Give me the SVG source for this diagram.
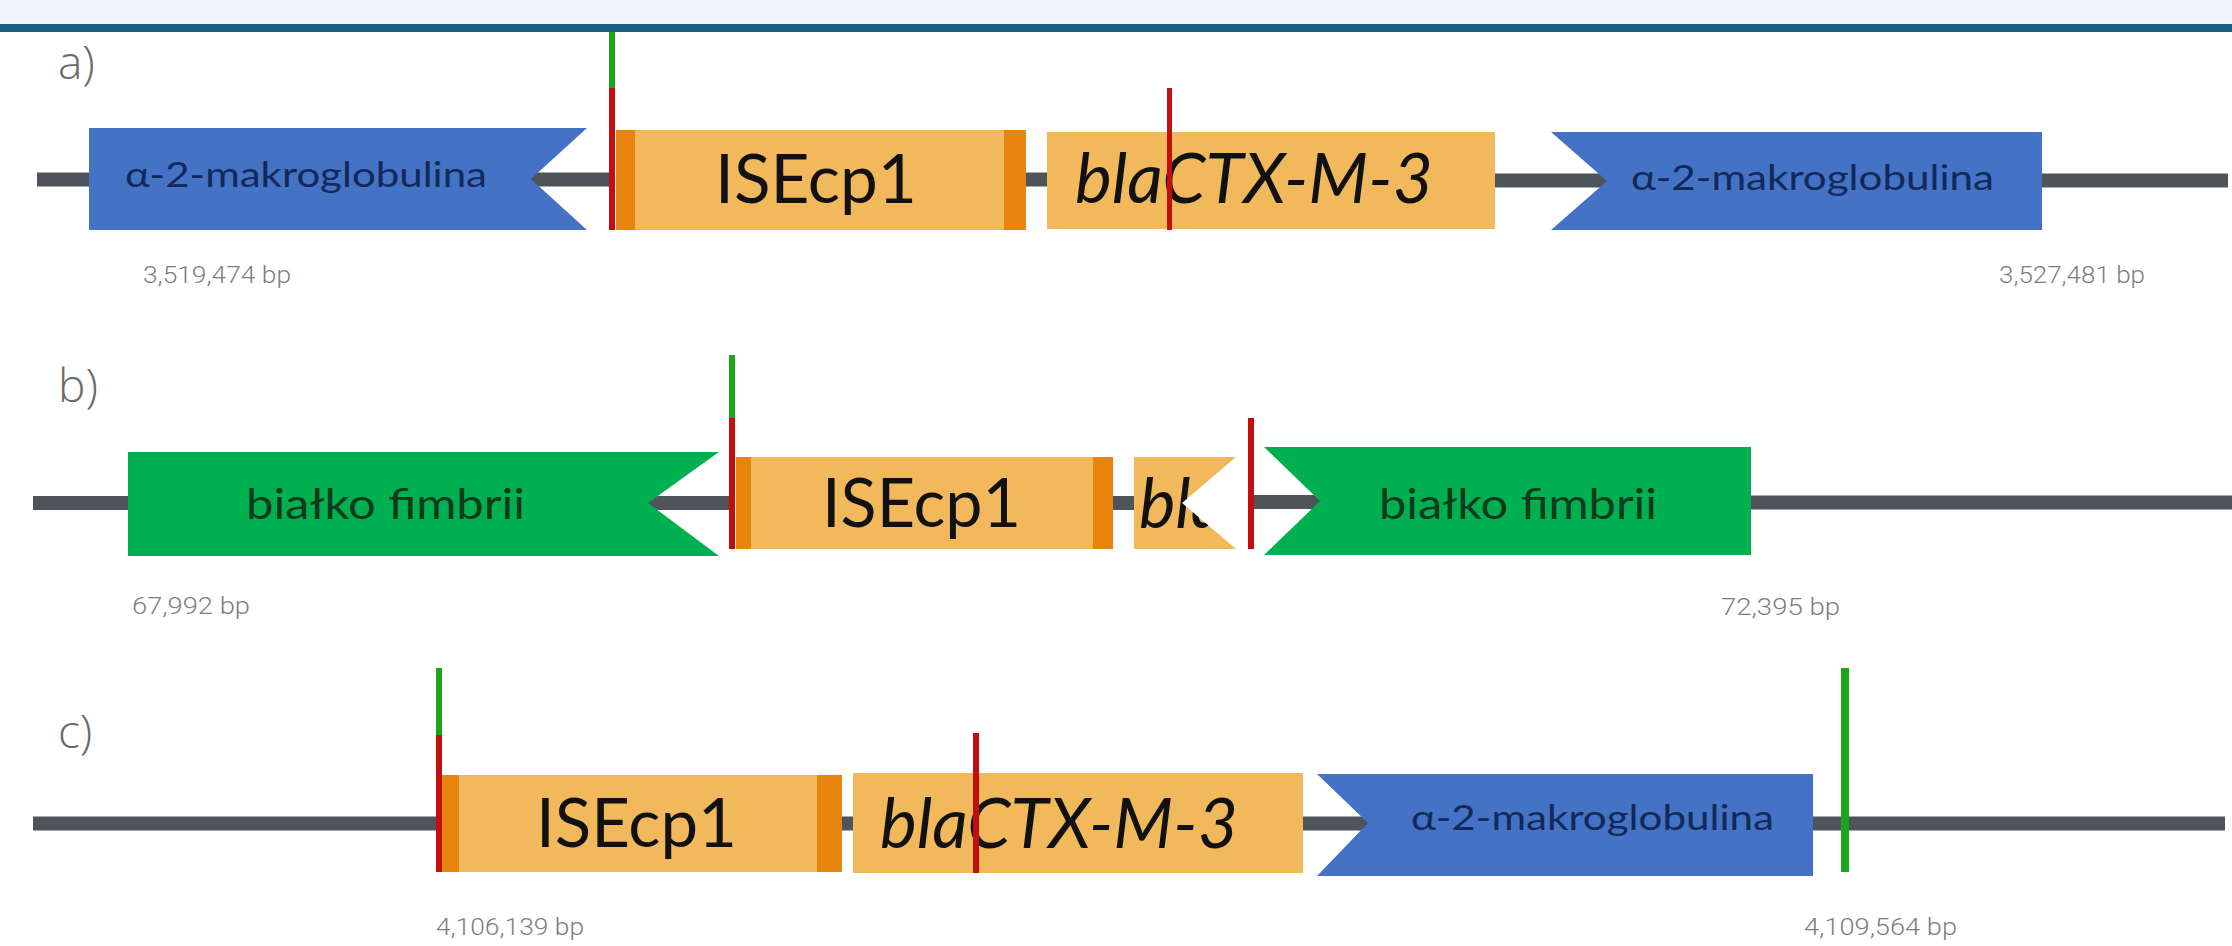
<svg xmlns="http://www.w3.org/2000/svg" width="2232" height="946" viewBox="0 0 2232 946">
  <style>
    .bg { fill: #ffffff; }
    .band { fill: #f2f5f9; }
    .stripe { fill: #1e5f86; }
    .dna { stroke: #4f545a; stroke-width: 14; stroke-linecap: butt; fill: none; }
    .blue { fill: #4472c4; }
    .green { fill: #00b050; }
    .is { fill: #f2b95c; }
    .ir { fill: #e8850e; }
    .red { fill: #c40d0d; }
    .grn { fill: #1aa51a; }
    .lbl { font-family: Lato, "Open Sans", "Liberation Sans", sans-serif; }
    .gene-blue { fill: #12295a; font-size: 34px; }
    .gene-green { fill: #0c3a1c; font-size: 43px; }
    .big { fill: #111111; font-size: 67px; }
    .ital { fill: #111111; font-size: 69px; font-style: italic; }
    .bp { font-family: Roboto, "Liberation Sans", sans-serif; font-weight: 300; fill: #7e7e7e; font-size: 23px; }
    .panel { font-family: "Open Sans", "Liberation Sans", sans-serif; font-weight: 300; fill: #6a6a6a; font-size: 46px; }
  </style>
  <defs>
    <clipPath id="clip-bl">
      <polygon points="1134,457 1236,457 1182,503 1236,549 1134,549"/>
    </clipPath>
  </defs>

  <rect class="bg" x="0" y="0" width="2232" height="946"/>
  <rect class="band" x="0" y="0" width="2232" height="24"/>
  <rect class="stripe" x="0" y="24" width="2232" height="8"/>

  <!-- DNA backbone segments -->
  <g id="connectors">
    <line class="dna" x1="37" y1="179.5" x2="95" y2="179.5"/>
    <line class="dna" x1="531" y1="179.5" x2="614" y2="179.5"/>
    <line class="dna" x1="1020" y1="179.5" x2="1052" y2="179.5"/>
    <line class="dna" x1="1490" y1="180.5" x2="1607" y2="180.5"/>
    <line class="dna" x1="2036" y1="180.5" x2="2228" y2="180.5"/>

    <line class="dna" x1="33" y1="503" x2="134" y2="503"/>
    <line class="dna" x1="648" y1="503" x2="734" y2="503"/>
    <line class="dna" x1="1108" y1="503" x2="1140" y2="503"/>
    <line class="dna" x1="1254" y1="502" x2="1320" y2="502"/>
    <line class="dna" x1="1745" y1="502.5" x2="2232" y2="502.5"/>

    <line class="dna" x1="33" y1="823.5" x2="441" y2="823.5"/>
    <line class="dna" x1="836" y1="823.5" x2="858" y2="823.5"/>
    <line class="dna" x1="1296" y1="823.5" x2="1368" y2="823.5"/>
    <line class="dna" x1="1808" y1="823.5" x2="2225" y2="823.5"/>
  </g>

  <!-- Panel a -->
  <g id="panel-a">
    <text class="panel" x="58" y="79">a)</text>
    <g id="a-a2m-left">
      <polygon class="blue" points="89,128 587,128 531,179 587,230 89,230"/>
      <text class="lbl gene-blue" x="125" y="187" textLength="362" lengthAdjust="spacingAndGlyphs">α-2-makroglobulina</text>
    </g>
    <g id="a-isecp1">
      <rect class="ir" x="616" y="130" width="19" height="100"/>
      <rect class="is" x="635" y="130" width="369" height="100"/>
      <rect class="ir" x="1004" y="130" width="22" height="100"/>
      <text class="lbl big" x="715" y="203" textLength="202" lengthAdjust="spacingAndGlyphs">ISEcp1</text>
    </g>
    <g id="a-bla">
      <rect class="is" x="1047" y="132" width="448" height="97"/>
      <text class="lbl ital" x="1075" y="203" textLength="358" lengthAdjust="spacingAndGlyphs">blaCTX-M-3</text>
    </g>
    <g id="a-a2m-right">
      <polygon class="blue" points="1551,132 2042,132 2042,230 1551,230 1607,181"/>
      <text class="lbl gene-blue" x="1631" y="190" textLength="363" lengthAdjust="spacingAndGlyphs">α-2-makroglobulina</text>
    </g>
    <g id="a-sites">
      <rect class="grn" x="609" y="32" width="6" height="56"/>
      <rect class="red" x="609" y="88" width="6" height="142"/>
      <rect class="red" x="1167" y="88" width="5" height="142"/>
    </g>
    <text class="bp" x="143" y="283" textLength="148" lengthAdjust="spacingAndGlyphs">3,519,474 bp</text>
    <text class="bp" x="1999" y="283" textLength="146" lengthAdjust="spacingAndGlyphs">3,527,481 bp</text>
  </g>

  <!-- Panel b -->
  <g id="panel-b">
    <text class="panel" x="58" y="402">b)</text>
    <g id="b-fim-left">
      <polygon class="green" points="128,452 719,452 648,503 719,556 128,556"/>
      <text class="lbl gene-green" x="246" y="519" textLength="279" lengthAdjust="spacingAndGlyphs">białko fimbrii</text>
    </g>
    <g id="b-isecp1">
      <rect class="ir" x="736" y="457" width="15" height="92"/>
      <rect class="is" x="751" y="457" width="342" height="92"/>
      <rect class="ir" x="1093" y="457" width="20" height="92"/>
      <text class="lbl big" x="822" y="527" textLength="199" lengthAdjust="spacingAndGlyphs">ISEcp1</text>
    </g>
    <g id="b-bla">
      <polygon class="is" points="1134,457 1236,457 1182,503 1236,549 1134,549"/>
      <text class="lbl ital" x="1139" y="528" textLength="87" lengthAdjust="spacingAndGlyphs" clip-path="url(#clip-bl)">bla</text>
    </g>
    <g id="b-fim-right">
      <polygon class="green" points="1264,447 1751,447 1751,555 1264,555 1320,501"/>
      <text class="lbl gene-green" x="1379" y="519" textLength="278" lengthAdjust="spacingAndGlyphs">białko fimbrii</text>
    </g>
    <g id="b-sites">
      <rect class="grn" x="729" y="355" width="6" height="63"/>
      <rect class="red" x="729" y="418" width="6" height="131"/>
      <rect class="red" x="1248" y="418" width="6" height="131"/>
    </g>
    <text class="bp" x="132" y="614" textLength="118" lengthAdjust="spacingAndGlyphs">67,992 bp</text>
    <text class="bp" x="1721" y="615" textLength="119" lengthAdjust="spacingAndGlyphs">72,395 bp</text>
  </g>

  <!-- Panel c -->
  <g id="panel-c">
    <text class="panel" x="58" y="748">c)</text>
    <g id="c-isecp1">
      <rect class="ir" x="442" y="775" width="17" height="97"/>
      <rect class="is" x="459" y="775" width="358" height="97"/>
      <rect class="ir" x="817" y="775" width="25" height="97"/>
      <text class="lbl big" x="536" y="847" textLength="201" lengthAdjust="spacingAndGlyphs">ISEcp1</text>
    </g>
    <g id="c-bla">
      <rect class="is" x="853" y="773" width="450" height="100"/>
      <text class="lbl ital" x="880" y="848" textLength="358" lengthAdjust="spacingAndGlyphs">blaCTX-M-3</text>
    </g>
    <g id="c-a2m">
      <polygon class="blue" points="1317,774 1813,774 1813,876 1317,876 1368,823"/>
      <text class="lbl gene-blue" x="1411" y="830" textLength="363" lengthAdjust="spacingAndGlyphs">α-2-makroglobulina</text>
    </g>
    <g id="c-sites">
      <rect class="grn" x="436" y="668" width="6" height="67"/>
      <rect class="red" x="436" y="735" width="6" height="137"/>
      <rect class="red" x="973" y="733" width="6" height="140"/>
      <rect class="grn" x="1841" y="668" width="8" height="204"/>
    </g>
    <text class="bp" x="436" y="935" textLength="148" lengthAdjust="spacingAndGlyphs">4,106,139 bp</text>
    <text class="bp" x="1804" y="935" textLength="153" lengthAdjust="spacingAndGlyphs">4,109,564 bp</text>
  </g>
</svg>
